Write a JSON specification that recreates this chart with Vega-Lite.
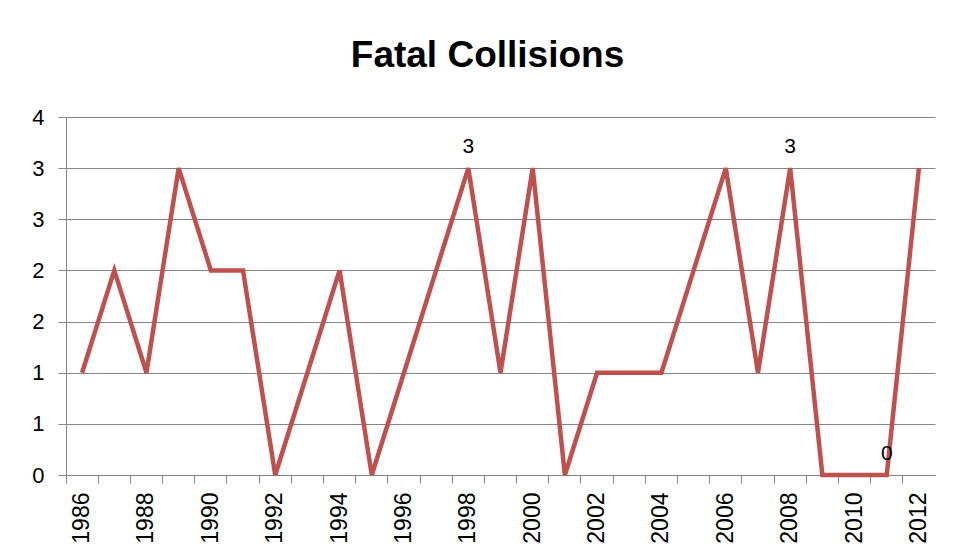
{
  "$schema": "https://vega.github.io/schema/vega-lite/v6.json",
  "autosize": "none",
  "width": 869,
  "height": 358,
  "padding": {"left": 66, "top": 117, "right": 34, "bottom": 85},
  "background": "white",
  "title": {
    "text": "Fatal Collisions",
    "font": "Liberation Sans",
    "fontSize": 37,
    "fontWeight": "bold",
    "color": "#000000",
    "anchor": "middle",
    "dx": -13,
    "offset": 31
  },
  "data": {
    "values": [
      {"year": 1986, "value": 1.143, "label": ""},
      {"year": 1987, "value": 2.286, "label": ""},
      {"year": 1988, "value": 1.143, "label": ""},
      {"year": 1989, "value": 3.429, "label": ""},
      {"year": 1990, "value": 2.286, "label": ""},
      {"year": 1991, "value": 2.286, "label": ""},
      {"year": 1992, "value": 0, "label": ""},
      {"year": 1993, "value": 1.143, "label": ""},
      {"year": 1994, "value": 2.286, "label": ""},
      {"year": 1995, "value": 0, "label": ""},
      {"year": 1996, "value": 1.143, "label": ""},
      {"year": 1997, "value": 2.286, "label": ""},
      {"year": 1998, "value": 3.429, "label": "3"},
      {"year": 1999, "value": 1.143, "label": ""},
      {"year": 2000, "value": 3.429, "label": ""},
      {"year": 2001, "value": 0, "label": ""},
      {"year": 2002, "value": 1.143, "label": ""},
      {"year": 2003, "value": 1.143, "label": ""},
      {"year": 2004, "value": 1.143, "label": ""},
      {"year": 2005, "value": 2.286, "label": ""},
      {"year": 2006, "value": 3.429, "label": ""},
      {"year": 2007, "value": 1.143, "label": ""},
      {"year": 2008, "value": 3.429, "label": "3"},
      {"year": 2009, "value": 0, "label": ""},
      {"year": 2010, "value": 0, "label": ""},
      {"year": 2011, "value": 0, "label": "0"},
      {"year": 2012, "value": 3.429, "label": ""}
    ]
  },
  "encoding": {
    "x": {
      "field": "year",
      "type": "ordinal",
      "scale": {"type": "band", "paddingInner": 0, "paddingOuter": 0},
      "axis": {
        "title": null,
        "labelAngle": -90,
        "labelExpr": "datum.value % 2 == 0 ? datum.label : ''",
        "labelFont": "Liberation Sans",
        "labelFontSize": 23,
        "labelColor": "#000000",
        "labelPadding": 9,
        "bandPosition": 0,
        "tickSize": 8,
        "tickColor": "#868686",
        "domainColor": "#868686",
        "grid": false
      }
    },
    "y": {
      "field": "value",
      "type": "quantitative",
      "scale": {"domain": [0, 4], "nice": false},
      "axis": {
        "title": null,
        "values": [0, 0.5714, 1.1429, 1.7143, 2.2857, 2.8571, 3.4286, 4],
        "format": ".0f",
        "labelFont": "Liberation Sans",
        "labelFontSize": 22,
        "labelColor": "#000000",
        "labelPadding": 14,
        "tickSize": 8,
        "tickColor": "#868686",
        "domainColor": "#868686",
        "grid": true,
        "gridColor": "#868686",
        "gridOpacity": 1
      }
    }
  },
  "layer": [
    {
      "mark": {"type": "line", "color": "#C0504D", "strokeWidth": 4.5, "strokeJoin": "miter"}
    },
    {
      "transform": [{"filter": "datum.label != ''"}],
      "mark": {"type": "text", "fontSize": 21, "font": "Liberation Sans", "color": "#000000", "dy": -21, "baseline": "middle"},
      "encoding": {"text": {"field": "label"}}
    }
  ],
  "config": {
    "view": {"stroke": null}
  }
}
